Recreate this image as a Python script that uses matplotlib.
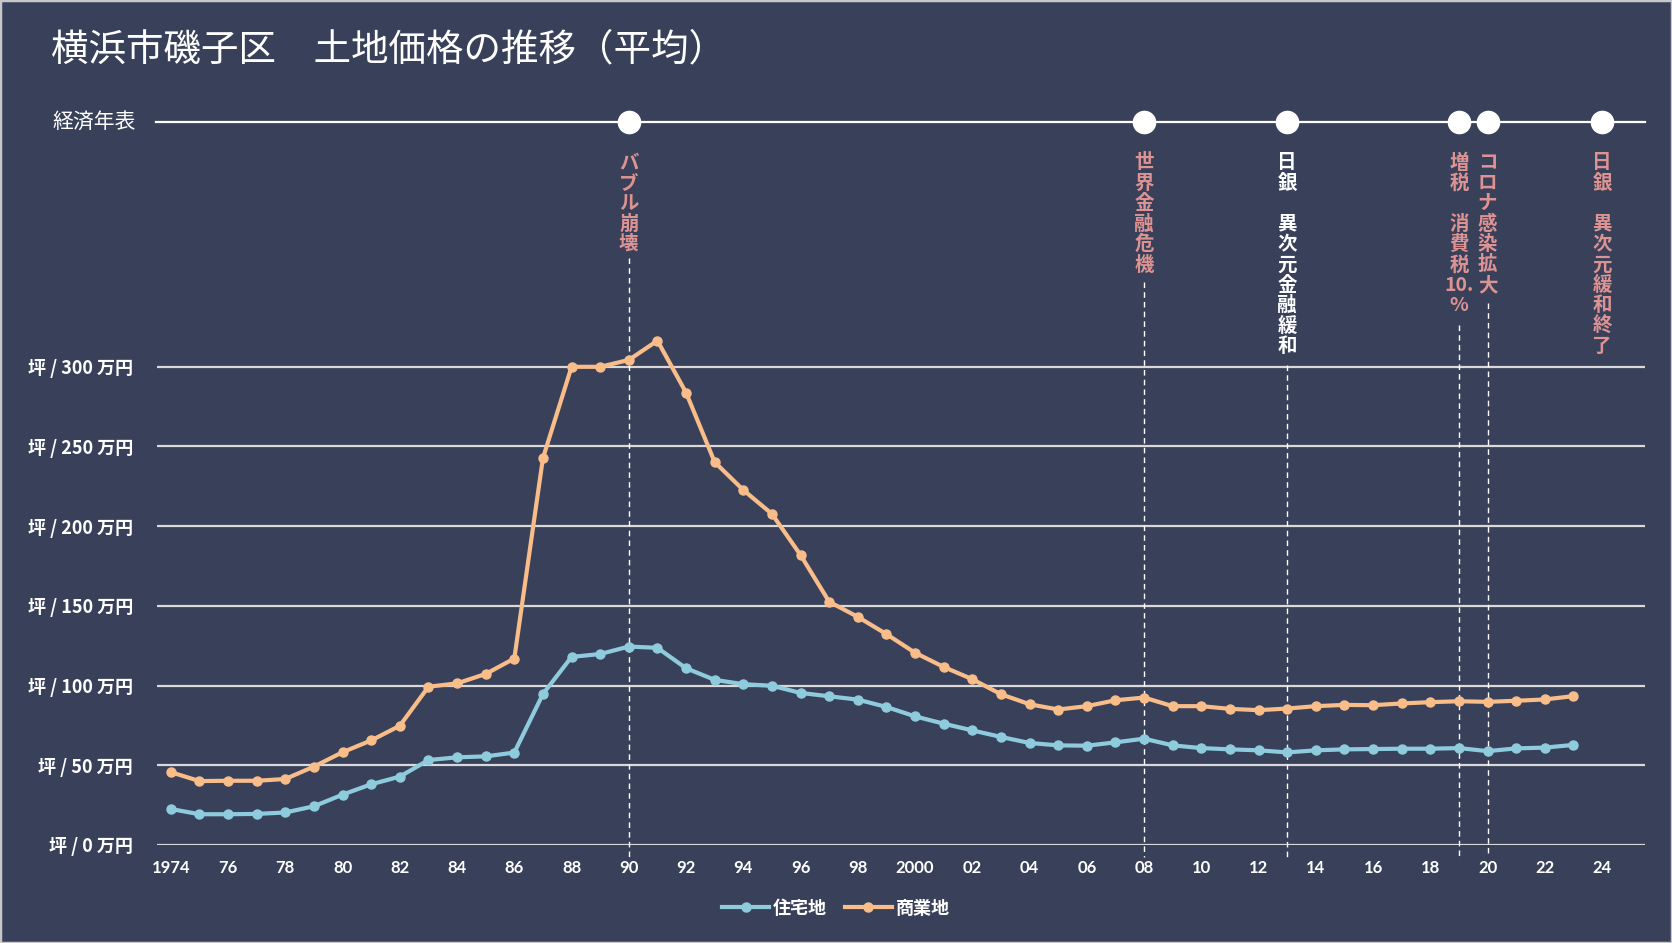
import matplotlib
matplotlib.use("Agg")
import matplotlib.pyplot as plt
import matplotlib.transforms as mtransforms
from matplotlib.patches import Rectangle

plt.rcParams['font.family'] = ['Noto Sans CJK JP', 'DejaVu Sans']

# data (万円 / 坪)
years = list(range(1974, 2024))
residential = [22.6, 19.3, 19.3, 19.5, 20.4, 24.3, 31.6, 38.1, 42.9, 53.3,
               55.0, 55.6, 58.0, 94.7, 118.0, 119.8, 124.5, 123.7, 110.9, 103.6,
               100.9, 99.9, 95.4, 93.3, 91.2, 86.6, 80.7, 76.1, 71.9, 67.8,
               64.0, 62.5, 62.3, 64.4, 66.7, 62.5, 60.8, 60.0, 59.4, 58.1,
               59.4, 60.0, 60.2, 60.4, 60.4, 60.8, 58.9, 60.6, 61.1, 62.8]
commercial = [45.7, 40.1, 40.3, 40.3, 41.4, 49.2, 58.2, 65.6, 74.8, 99.3,
              101.4, 107.3, 117.0, 242.7, 300.0, 300.0, 304.3, 316.4, 283.8, 240.2,
              222.7, 207.7, 181.9, 152.6, 143.1, 132.3, 120.6, 111.7, 104.0, 94.6,
              88.3, 85.0, 87.1, 90.8, 92.5, 87.1, 87.1, 85.4, 84.6, 85.6,
              87.1, 87.9, 87.7, 88.8, 89.6, 90.2, 89.8, 90.5, 91.3, 93.4]
series_names = ['住宅地', '商業地']

yticks = [0, 50, 100, 150, 200, 250, 300]
ytick_labels = [f'坪 / {v} 万円' for v in yticks]
xticks = list(range(1974, 2025, 2))
xtick_labels = [str(y) if y in (1974, 2000) else f'{y % 100:02d}' for y in xticks]

event_years = [1990, 2008, 2013, 2019, 2020, 2024]
event_texts = [['バ', 'ブ', 'ル', '崩', '壊'],
               ['世', '界', '金', '融', '危', '機'],
               ['日', '銀', '　', '異', '次', '元', '金', '融', '緩', '和'],
               ['増', '税', '　', '消', '費', '税', '10.', '%'],
               ['コ', 'ロ', 'ナ', '感', '染', '拡', '大'],
               ['日', '銀', '　', '異', '次', '元', '緩', '和', '終', '了']]
event_colors = ['#DE9393', '#DE9393', '#FFFFFF', '#DE9393', '#DE9393', '#DE9393']

BG = '#39415A'
BLUE = '#8ECCDD'
ORANGE = '#F9BD8A'
W, H = 1672, 943

fig = plt.figure(figsize=(W / 100, H / 100), dpi=100, facecolor=BG)
ax = fig.add_axes([156.5 / W, 1 - 845 / H, (1645 - 156.5) / W, (845 - 80) / H])
ax.set_facecolor(BG)
ax.set_xlim(1973.5, 2025.5)
ax.set_ylim(0, (845 - 80) / 1.594)

for v in yticks:
    ax.axhline(v, color='#D9D9D9', lw=1.6, zorder=1)

ax.set_yticks(yticks)
ax.set_yticklabels(ytick_labels, color='white', fontsize=13, fontweight='bold')
ax.set_xticks(xticks)
ax.set_xticklabels(xtick_labels, color='white', fontsize=12, fontweight='bold',
                   family=['Lato', 'DejaVu Sans'])
ax.tick_params(axis='y', length=0, pad=17)
ax.tick_params(axis='x', length=0, pad=11)
for s in ax.spines.values():
    s.set_visible(False)

ax.plot(years, residential, color=BLUE, lw=3, marker='o', ms=6.5,
        label=series_names[0], zorder=4, clip_on=False)
ax.plot(years, commercial, color=ORANGE, lw=3, marker='o', ms=6.5,
        label=series_names[1], zorder=4, clip_on=False)

# timeline of economic events
blend = mtransforms.blended_transform_factory(ax.transData, fig.transFigure)
tl_y = 1 - 121.6 / H
ax.plot([1973.5, 2025.5], [tl_y, tl_y], color='white', lw=1.6, transform=blend,
        clip_on=False, zorder=3)
ax.plot(event_years, [tl_y] * len(event_years), 'o', color='white', ms=16,
        transform=blend, clip_on=False, zorder=5)
fig.text(52 / W, tl_y, '経済年表', color='white', fontsize=15, va='center', ha='left')

dash_tops = [258, 282, 365, 325, 303, None]
for yr, chars, col, top in zip(event_years, event_texts, event_colors, dash_tops):
    for i, ch in enumerate(chars):
        yc = 163 + i * 20.4
        ax.text(yr, 1 - yc / H, ch, color=col, fontsize=14, fontweight='bold',
                ha='center', va='center', transform=blend, clip_on=False)
    if top is not None:
        ax.plot([yr, yr], [1 - top / H, 1 - 857 / H], color='white', lw=1,
                ls=(0, (4, 3)), transform=blend, clip_on=False, zorder=2)

fig.text(51 / W, 1 - 50 / H, '横浜市磯子区　土地価格の推移（平均）', color='white',
         fontsize=27, va='center', ha='left')

leg = fig.legend(loc='center', bbox_to_anchor=(0.5, 1 - 908 / H), ncol=2,
                 frameon=False, handlelength=2.6, columnspacing=1.0, handletextpad=0.2,
                 prop={'size': 13, 'weight': 'bold'})
for t in leg.get_texts():
    t.set_color('white')

fig.patches.append(Rectangle((0, 0), 1, 1, transform=fig.transFigure, fill=False,
                             edgecolor='#C8C8C8', lw=2.5))

fig.savefig('out.png', dpi=100, facecolor=BG)
